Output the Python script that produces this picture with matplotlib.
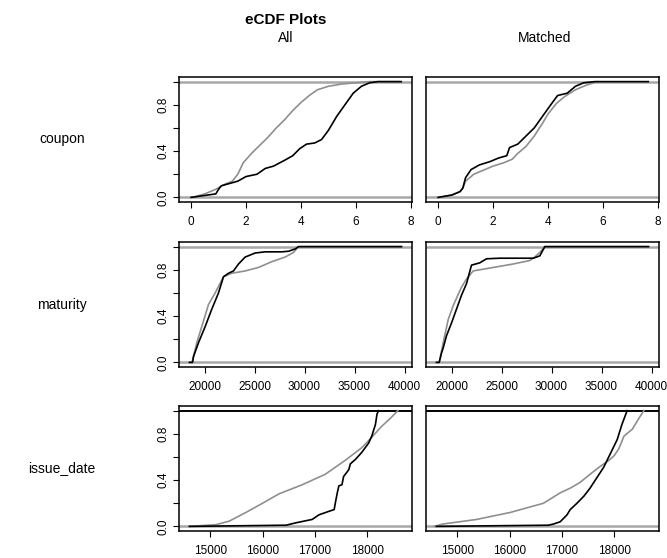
import matplotlib
matplotlib.use("Agg")
import matplotlib.pyplot as plt

plt.rcParams['font.family'] = ['Liberation Sans', 'DejaVu Sans']

# eCDF curves (x, cumulative share)
# treated = black, control = gray
coupon_all_trt_x = [0, 0.6, 0.9, 1.0, 1.1, 1.4, 1.7, 2.0, 2.4, 2.7, 3.0, 3.4, 3.7, 3.95, 4.2, 4.5,
                    4.75, 5.0, 5.3, 5.6, 5.9, 6.2, 6.5, 6.8, 7.65]
coupon_all_trt_y = [0, 0.02, 0.03, 0.07, 0.1, 0.12, 0.14, 0.18, 0.2, 0.25, 0.27, 0.32, 0.36, 0.42, 0.46, 0.47,
                    0.5, 0.58, 0.7, 0.8, 0.9, 0.96, 0.99, 1.0, 1.0]
coupon_all_ctl_x = [0.05, 0.5, 0.9, 1.2, 1.5, 1.7, 1.9, 2.2, 2.5, 2.8, 3.1, 3.4, 3.7, 4.0, 4.3,
                    4.6, 5.0, 5.5, 6.0, 6.5, 7.6]
coupon_all_ctl_y = [0, 0.03, 0.07, 0.11, 0.14, 0.2, 0.3, 0.38, 0.45, 0.52, 0.6, 0.67, 0.75, 0.82, 0.88,
                    0.93, 0.96, 0.98, 0.99, 1.0, 1.0]
coupon_m_trt_x = [0, 0.5, 0.8, 0.9, 1.0, 1.2, 1.5, 1.9, 2.2, 2.5, 2.6, 2.9, 3.2, 3.5, 3.8, 4.1,
                  4.35, 4.7, 5.0, 5.3, 5.7, 7.65]
coupon_m_trt_y = [0, 0.02, 0.05, 0.08, 0.17, 0.24, 0.28, 0.31, 0.34, 0.36, 0.43, 0.46, 0.53, 0.6, 0.7, 0.8,
                  0.88, 0.9, 0.96, 0.99, 1.0, 1.0]
coupon_m_ctl_x = [0.05, 0.5, 0.8, 0.9, 1.0, 1.3, 1.6, 2.0, 2.4, 2.7, 2.9, 3.2, 3.5, 3.8, 4.0, 4.3,
                  4.6, 5.0, 5.4, 5.8]
coupon_m_ctl_y = [0, 0.02, 0.05, 0.08, 0.14, 0.2, 0.23, 0.27, 0.3, 0.33, 0.38, 0.44, 0.53, 0.64, 0.72, 0.81,
                  0.87, 0.93, 0.97, 1.0]

mat_all_trt_x = [18500, 18800, 18900, 19400, 20070, 20730, 21400, 21900, 22400, 22900, 23400, 24070,
                 25070, 26070, 27730, 28400, 29070, 29400, 39700]
mat_all_trt_y = [0, 0, 0.05, 0.17, 0.31, 0.46, 0.6, 0.74, 0.77, 0.79, 0.85, 0.91,
                 0.945, 0.955, 0.955, 0.96, 0.98, 1.0, 1.0]
mat_all_ctl_x = [18500, 18750, 19230, 19730, 20400, 21070, 21900, 22730, 24070, 25400, 26730, 28070,
                 28900, 29400, 39700]
mat_all_ctl_y = [0, 0, 0.17, 0.31, 0.5, 0.6, 0.74, 0.77, 0.79, 0.82, 0.87, 0.91,
                 0.95, 1.0, 1.0]
mat_m_trt_x = [18500, 18770, 19000, 19170, 19500, 20000, 20500, 21000, 21500, 22000, 22830, 23500,
               24830, 28170, 28830, 29330, 39700]
mat_m_trt_y = [0, 0, 0.08, 0.125, 0.23, 0.34, 0.46, 0.58, 0.68, 0.84, 0.86, 0.895,
               0.9, 0.9, 0.92, 1.0, 1.0]
mat_m_ctl_x = [18500, 18770, 19170, 19670, 20170, 21000, 21500, 22170, 24170, 26170, 27830, 28330,
               28830, 29330, 39700]
mat_m_ctl_y = [0, 0, 0.17, 0.37, 0.49, 0.65, 0.72, 0.79, 0.82, 0.85, 0.88, 0.91,
               0.95, 1.0, 1.0]

iss_all_trt_x = [14600, 16450, 16630, 16950, 17080, 17270, 17370, 17400, 17430, 17460, 17520,
                 17550, 17650, 17680, 17780, 17900, 18030, 18090, 18160, 18190, 18220]
iss_all_trt_y = [0, 0.01, 0.03, 0.06, 0.1, 0.13, 0.145, 0.22, 0.29, 0.35, 0.36,
                 0.43, 0.49, 0.54, 0.58, 0.64, 0.72, 0.78, 0.88, 0.97, 1.0]
iss_all_ctl_x = [14600, 15110, 15360, 15680, 16000, 16310, 16760, 17200, 17580, 17900, 18090,
                 18270, 18460, 18590]
iss_all_ctl_y = [0, 0.015, 0.045, 0.12, 0.2, 0.28, 0.36, 0.45, 0.57, 0.68, 0.77,
                 0.86, 0.94, 1.0]
iss_m_trt_x = [14600, 16740, 16840, 16970, 17100, 17160, 17290, 17420, 17540, 17670, 17800,
               17920, 18060, 18150, 18250]
iss_m_trt_y = [0, 0.01, 0.02, 0.04, 0.1, 0.145, 0.2, 0.26, 0.33, 0.42, 0.51,
               0.62, 0.75, 0.88, 1.0]
iss_m_ctl_x = [14560, 14720, 15045, 15370, 15690, 16010, 16330, 16650, 16970, 17160, 17350,
               17540, 17740, 17900, 18000, 18090, 18190, 18350, 18470, 18570]
iss_m_ctl_y = [0, 0.02, 0.04, 0.06, 0.09, 0.12, 0.16, 0.2, 0.29, 0.33, 0.38,
               0.45, 0.52, 0.57, 0.61, 0.67, 0.78, 0.84, 0.93, 1.0]

row_names = ["coupon", "maturity", "issue_date"]
col_names = ["All", "Matched"]
x_limits = [(-0.44, 8.04), (17450, 40750), (14400, 18860)]
x_ticks = [[0, 2, 4, 6, 8],
           [20000, 25000, 30000, 35000, 40000],
           [15000, 16000, 17000, 18000]]

curves = [
    [(coupon_all_trt_x, coupon_all_trt_y, coupon_all_ctl_x, coupon_all_ctl_y),
     (coupon_m_trt_x, coupon_m_trt_y, coupon_m_ctl_x, coupon_m_ctl_y)],
    [(mat_all_trt_x, mat_all_trt_y, mat_all_ctl_x, mat_all_ctl_y),
     (mat_m_trt_x, mat_m_trt_y, mat_m_ctl_x, mat_m_ctl_y)],
    [(iss_all_trt_x, iss_all_trt_y, iss_all_ctl_x, iss_all_ctl_y),
     (iss_m_trt_x, iss_m_trt_y, iss_m_ctl_x, iss_m_ctl_y)],
]

W, H = 667, 558
fig = plt.figure(figsize=(W / 100, H / 100), dpi=100)

col_left = [179, 426]
panel_w = 233
row_top = [77, 242, 406]
panel_h = 125

for r in range(3):
    for c in range(2):
        ax = fig.add_axes([col_left[c] / W, (H - row_top[r] - panel_h) / H,
                           panel_w / W, panel_h / H])
        tx, ty, cx, cy = curves[r][c]
        top_col = 'black' if r == 2 else '#a8a8a8'
        ax.axhline(0, color='#a8a8a8', lw=1.8, zorder=1)
        ax.axhline(1, color=top_col, lw=1.4 if r == 2 else 1.8, zorder=1)
        ax.plot(cx, cy, color='#8f8f8f', lw=1.2, zorder=2)
        ax.plot(tx, ty, color='black', lw=1.2, zorder=3)
        ax.set_xlim(*x_limits[r])
        ax.set_ylim(-0.04, 1.04)
        ax.set_xticks(x_ticks[r])
        ax.set_xticklabels([str(t) for t in x_ticks[r]])
        ax.tick_params(axis='x', direction='out', length=4, width=0.8, pad=6,
                       labelsize=8.5)
        if c == 0:
            ax.set_yticks([0, 0.2, 0.4, 0.6, 0.8, 1.0])
            ax.set_yticklabels(["0.0", "", "0.4", "", "0.8", ""])
            ax.tick_params(axis='y', direction='out', length=4, width=0.8, pad=3,
                           labelsize=8.5)
            for lab in ax.get_yticklabels():
                lab.set_rotation(90)
                lab.set_va('center')
        else:
            ax.set_yticks([])
        for sp in ax.spines.values():
            sp.set_linewidth(1.1)
            sp.set_color('black')

    fig.text(62 / W, 1 - (row_top[r] + panel_h / 2) / H, row_names[r],
             ha='center', va='center', fontsize=10)

fig.text(286 / W, 1 - 20 / H, "eCDF Plots", ha='center', va='center',
         fontsize=11, fontweight='bold')
fig.text(286 / W, 1 - 38 / H, col_names[0], ha='center', va='center', fontsize=10)
fig.text(545 / W, 1 - 38 / H, col_names[1], ha='center', va='center', fontsize=10)

fig.savefig("out.png", dpi=100)
